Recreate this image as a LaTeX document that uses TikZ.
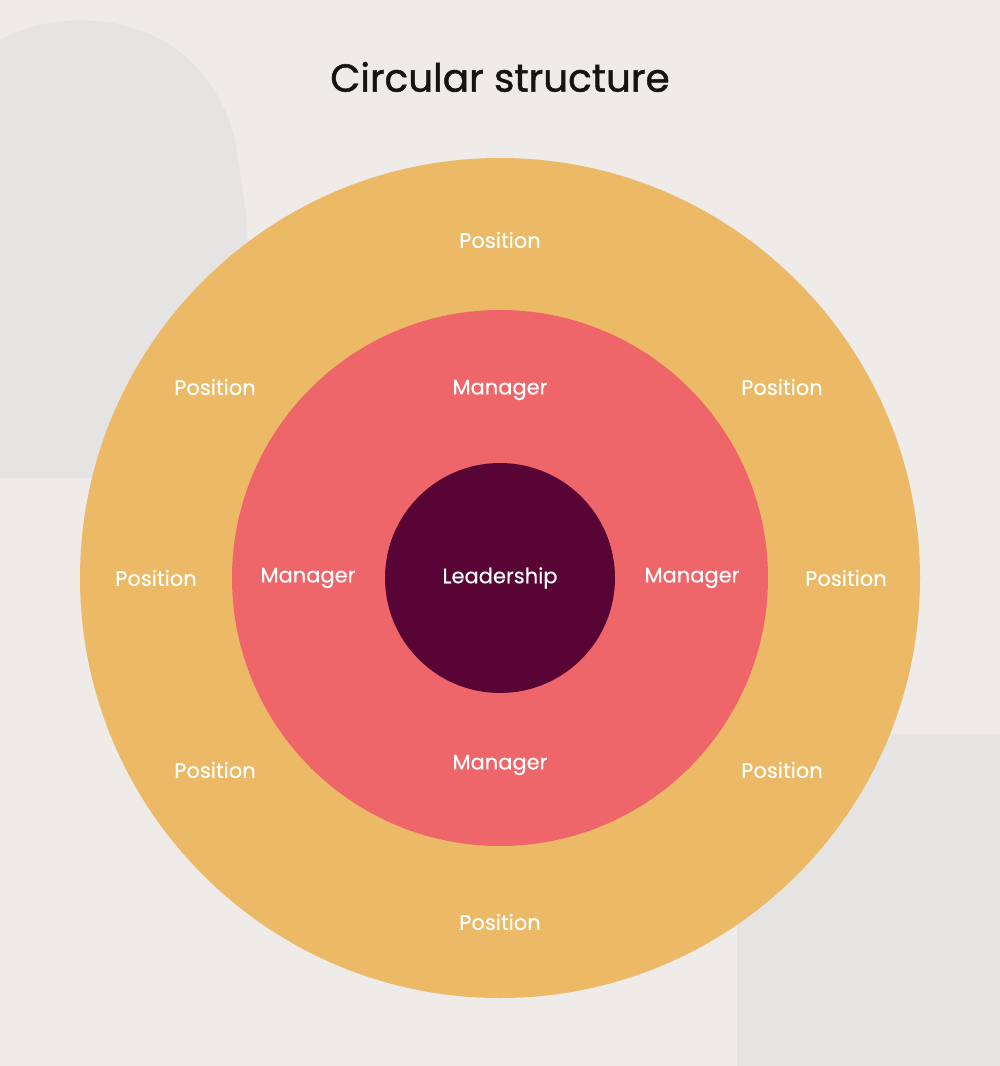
\documentclass[tikz,border=0pt]{standalone}
\usepackage{fontspec}
\setmainfont{Poppins}
\definecolor{bg}{HTML}{EEEBE9}
\definecolor{blot}{HTML}{E6E4E3}
\definecolor{outerc}{HTML}{ECBA66}
\definecolor{midc}{HTML}{EE666A}
\definecolor{innerc}{HTML}{580535}
\definecolor{titlec}{HTML}{141414}
\begin{document}
\begin{tikzpicture}[x=1pt,y=-1pt,
  lbl/.style={text=white,font=\fontsize{21}{24}\selectfont\addfontfeature{FakeBold=0.3},inner sep=0pt},
  ring/.style={circle,draw=none,inner sep=0pt}]
\useasboundingbox (0,0) rectangle (1000,1066);
\fill[bg] (0,0) rectangle (1000,1066);
% background blotches
\fill[blot] (0,40) .. controls (60,5) and (200,5) .. (235,140) -- (247,220) -- (247,430) .. controls (240,470) and (200,478) .. (150,478) -- (0,478) -- cycle;
\fill[blot] (737,734) rectangle (1000,1066);
% circles
\node[ring,fill=outerc,minimum size=840pt] (outer) at (500,578) {};
\node[ring,fill=midc,minimum size=536pt] (mid) at (500,578) {};
\node[ring,fill=innerc,minimum size=230pt] (inner) at (500,578) {};
% title
\node[text=titlec,font=\fontsize{39}{45}\selectfont\addfontfeature{FakeBold=1.2}] (title) at (500,77) {Circular structure};
% labels
\node[lbl] (lead) at (500,578) {Leadership};
\node[lbl] (m1) at (500,390) {Manager};
\node[lbl] (m2) at (308,578) {Manager};
\node[lbl] (m3) at (692,578) {Manager};
\node[lbl] (m4) at (500,765) {Manager};
\node[lbl] (p1) at (500,240) {Position};
\node[lbl] (p2) at (215,387) {Position};
\node[lbl] (p3) at (782,387) {Position};
\node[lbl] (p4) at (156,578) {Position};
\node[lbl] (p5) at (846,578) {Position};
\node[lbl] (p6) at (215,770) {Position};
\node[lbl] (p7) at (782,770) {Position};
\node[lbl] (p8) at (500,922) {Position};
\end{tikzpicture}
\end{document}
